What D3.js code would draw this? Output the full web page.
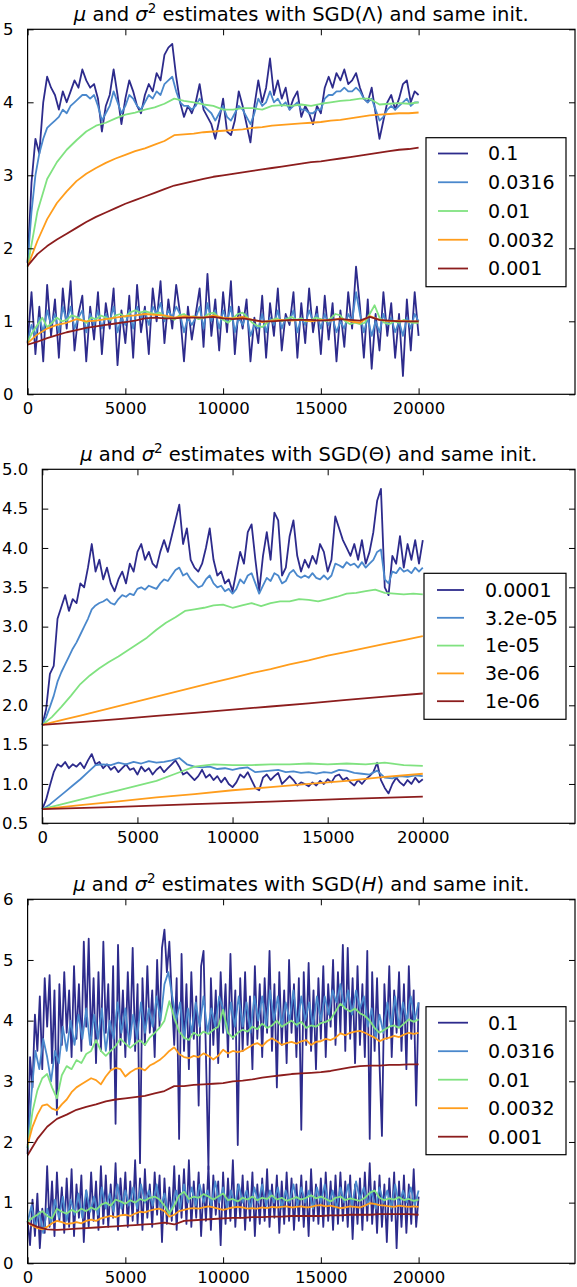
<!DOCTYPE html>
<html>
<head>
<meta charset="utf-8">
<script src="https://d3js.org/d3.v7.min.js"></script>
<style>
  html, body { margin: 0; padding: 0; background: #fff; }
  svg { display: block; }
  text { font-family: "DejaVu Sans", sans-serif; fill: #000; }
</style>
</head>
<body>
<div id="chart"></div>
<script>
// ---- data ----
// every series spans iterations 0..20000, evenly spaced
var iterMax = 20000;
var xTicks = [0, 5000, 10000, 15000, 20000];
var lambdaRates = ["0.1", "0.0316", "0.01", "0.0032", "0.001"];
var thetaRates = ["0.0001", "3.2e-05", "1e-05", "3e-06", "1e-06"];
var hRates = ["0.1", "0.0316", "0.01", "0.0032", "0.001"];
var rateColors = ["#2d2b8c", "#4a88cc", "#80e280", "#ff9d1c", "#8c1d1d"];

// SGD(Lambda), mu
var lamMu_0p1 = [1.8,2.9,3.5,3.3,4.0,4.35,4.2,4.1,3.9,4.15,
  4.0,4.15,4.3,4.2,4.45,4.3,4.2,4.25,4.05,3.6,
  3.95,4.1,4.45,4.1,3.7,4.05,4.3,4.15,3.95,3.85,
  4.1,4.25,4.15,4.4,4.3,4.65,4.75,4.8,4.35,4.0,
  3.8,3.95,3.85,4.0,4.25,3.9,3.8,3.7,3.5,3.75,
  4.05,3.6,3.55,3.75,4.15,3.95,3.7,3.45,3.95,4.3,
  4.0,4.2,4.6,4.1,4.3,4.05,4.2,3.9,4.05,4.15,
  3.8,3.95,3.85,3.7,3.95,3.85,4.2,4.35,4.2,4.4,
  4.3,4.45,4.25,4.3,4.4,4.2,4.05,4.0,4.2,3.85,
  3.5,3.75,4.0,4.1,3.9,4.05,4.25,4.3,4.0,4.15,4.1];
var lamMu_0p0316 = [1.8,2.5,3.0,3.3,3.5,3.65,3.7,3.75,3.8,3.9,
  3.85,3.95,4.0,4.05,4.1,4.1,4.05,4.1,3.95,3.75,
  3.85,3.95,4.15,4.0,3.85,3.95,4.1,4.05,3.95,3.9,
  4.0,4.1,4.05,4.15,4.1,4.25,4.3,4.35,4.15,4.0,
  3.95,3.95,3.9,3.95,4.05,3.95,3.9,3.85,3.75,3.85,
  3.95,3.8,3.75,3.85,3.95,3.9,3.8,3.7,3.85,4.05,
  3.95,4.0,4.15,4.0,4.05,3.95,4.0,3.9,3.95,4.0,
  3.9,3.9,3.85,3.85,3.9,3.9,4.05,4.1,4.1,4.15,
  4.15,4.2,4.15,4.15,4.2,4.15,4.05,4.0,4.05,3.9,
  3.75,3.8,3.9,3.95,3.9,3.95,4.0,4.05,3.95,4.0,4.0];
var lamMu_0p01 = [1.75,2.5,2.95,3.18,3.35,3.48,3.6,3.68,3.72,3.78,3.83,3.86,3.9,3.93,3.98,4.05,
  4.02,4.0,3.97,3.95,3.9,3.9,3.92,3.92,3.9,3.95,3.96,3.95,3.97,3.95,3.98,4.0,4.02,4.03,4.05,
  4.05,3.97,3.98,3.99,3.98,4.0];
var lamMu_0p0032 = [1.75,2.1,2.4,2.62,2.78,2.92,3.02,3.1,3.17,3.23,3.28,3.33,3.37,3.42,3.47,3.55,
  3.56,3.57,3.59,3.6,3.61,3.62,3.63,3.65,3.66,3.68,3.69,3.7,3.71,3.72,3.73,3.75,3.76,3.78,3.8,
  3.82,3.83,3.84,3.85,3.85,3.86];
var lamMu_0p001 = [1.76,1.92,2.03,2.12,2.2,2.28,2.36,2.43,2.49,2.55,2.61,2.66,2.71,2.76,2.81,2.86,
  2.89,2.92,2.95,2.98,3.0,3.02,3.04,3.06,3.08,3.1,3.12,3.14,3.16,3.18,3.19,3.21,3.23,3.25,3.27,
  3.29,3.31,3.33,3.35,3.36,3.38];
// SGD(Lambda), sigma^2
var lamSig_0p1 = [0.7,1.4,0.55,1.2,0.45,1.5,0.8,1.3,0.5,1.45,0.9,1.55,0.6,1.1,1.35,0.45,1.2,0.75,1.4,0.55,
  1.25,0.9,1.45,0.4,1.15,0.7,1.35,0.5,1.5,0.85,1.2,0.55,1.45,1.0,1.55,0.7,1.3,0.9,1.5,1.1,
  0.45,1.2,0.75,1.1,1.45,0.65,1.65,0.8,1.3,0.6,1.4,0.85,1.55,0.55,1.2,0.9,1.3,0.45,1.05,0.7,
  1.35,0.5,1.25,0.8,1.45,0.6,1.1,0.95,1.4,0.5,1.25,0.7,1.45,0.85,1.2,0.55,1.35,0.75,1.25,0.45,
  1.15,0.65,1.4,0.9,1.75,1.2,0.5,1.3,0.35,1.1,0.6,1.4,0.8,1.25,0.5,1.1,0.25,1.3,0.6,1.4,0.8];
var lamSig_0p0316 = [0.72,0.95,0.8,1.05,0.85,1.15,0.95,1.1,0.85,1.2,1.0,1.2,0.9,1.05,1.15,0.85,1.1,0.95,1.15,0.9,
  1.1,1.0,1.2,0.85,1.05,0.95,1.15,0.9,1.2,1.05,1.15,0.95,1.2,1.1,1.25,1.0,1.15,1.05,1.2,1.1,
  0.85,1.05,0.95,1.05,1.2,0.9,1.25,1.0,1.15,0.9,1.15,1.0,1.2,0.85,1.05,0.95,1.1,0.8,0.95,0.9,
  1.1,0.85,1.05,0.95,1.15,0.9,1.05,1.0,1.15,0.85,1.05,0.95,1.15,1.0,1.1,0.9,1.1,0.95,1.05,0.85,
  1.0,0.9,1.1,1.0,1.4,1.1,0.85,1.05,0.8,1.0,0.85,1.1,0.95,1.05,0.85,1.0,0.8,1.05,0.9,1.1,1.0];
var lamSig_0p01 = [0.72,0.85,0.95,1.05,0.92,0.98,1.05,1.0,1.02,1.08,1.06,1.02,0.98,1.05,1.03,1.08,1.05,1.02,1.08,1.1,
  1.06,1.12,1.15,1.12,1.14,1.12,1.1,1.12,1.06,1.05,1.02,1.08,1.1,1.05,1.07,1.03,1.05,1.1,1.12,1.06,
  1.02,0.98,1.04,1.1,1.12,1.05,0.98,0.94,0.92,0.98,1.02,1.04,1.0,1.03,1.06,1.02,1.04,1.0,1.02,1.05,
  1.03,1.0,1.04,1.1,1.08,1.0,0.96,0.98,0.96,0.98,1.1,1.22,1.05,0.98,0.96,1.0,0.98,1.02,0.99,0.98,0.98];
var lamSig_0p0032 = [0.7,0.82,0.9,0.95,0.98,1.03,1.0,1.01,1.03,1.05,1.07,1.08,1.1,1.09,1.08,1.05,1.07,1.06,1.05,
  1.08,1.05,1.04,1.06,1.02,0.99,1.01,1.02,1.01,1.02,1.0,1.02,1.01,1.04,1.0,0.98,1.07,1.02,1.0,1.01,1.0,1.0];
var lamSig_0p001 = [0.68,0.72,0.77,0.81,0.85,0.88,0.91,0.93,0.95,0.97,0.99,1.01,1.04,1.05,1.04,1.04,1.05,1.05,
  1.05,1.06,1.04,1.03,1.04,1.02,1.0,1.0,1.01,1.02,1.02,1.02,1.01,1.02,1.03,1.02,1.01,1.06,1.02,1.01,1.0,1.0,1.0];

// SGD(Theta), mu
var thMu_1em4 = [1.75,1.95,2.4,2.5,3.1,3.25,3.4,3.2,3.35,3.3,
  3.55,3.5,3.75,4.05,3.7,3.85,3.6,3.75,3.55,3.45,
  3.6,3.7,3.55,3.8,3.7,3.95,4.05,3.85,3.95,3.8,
  3.75,3.95,4.1,3.95,4.15,4.35,4.55,4.05,4.25,3.85,
  3.75,3.7,3.8,4.0,4.25,3.85,3.65,3.7,3.55,3.6,
  3.45,3.7,3.95,3.8,4.2,4.3,3.85,3.45,3.9,4.2,
  3.85,4.45,4.35,3.65,3.75,4.15,4.35,3.9,3.7,3.85,
  3.75,3.9,3.8,4.05,3.95,3.7,3.85,4.4,4.25,4.1,
  4.0,3.9,4.05,3.85,4.1,3.8,3.95,4.2,4.6,4.75,
  3.5,3.4,3.9,3.8,4.15,3.75,4.05,3.85,4.1,3.8,4.1];
var thMu_3p2em5 = [1.75,1.85,1.98,2.12,2.3,2.42,2.52,2.62,2.72,2.8,
  2.9,3.0,3.1,3.22,3.27,3.3,3.32,3.35,3.3,3.28,
  3.35,3.4,3.38,3.42,3.4,3.48,3.5,3.47,3.52,3.5,
  3.48,3.55,3.6,3.58,3.65,3.72,3.75,3.65,3.68,3.6,
  3.55,3.5,3.52,3.6,3.65,3.55,3.5,3.52,3.45,3.48,
  3.42,3.48,3.6,3.55,3.65,3.68,3.55,3.42,3.52,3.62,
  3.58,3.68,3.65,3.55,3.58,3.68,3.72,3.65,3.62,3.65,
  3.62,3.68,3.62,3.6,3.65,3.6,3.65,3.8,3.78,3.75,
  3.82,3.78,3.8,3.75,3.82,3.75,3.8,3.85,3.95,3.98,
  3.6,3.55,3.7,3.68,3.75,3.7,3.72,3.68,3.75,3.7,3.75];
var thMu_1em5 = [1.75,1.85,1.98,2.12,2.27,2.38,2.47,2.55,2.62,2.7,2.78,2.86,2.96,3.05,3.12,3.2,
  3.22,3.24,3.27,3.28,3.24,3.27,3.3,3.26,3.3,3.32,3.32,3.35,3.34,3.32,3.35,3.38,3.42,3.43,3.45,
  3.47,3.43,3.42,3.41,3.42,3.41];
var thMu_3em6 = [1.75,1.81,1.87,1.93,1.99,2.05,2.11,2.17,2.23,2.29,2.35,2.41,2.46,2.52,2.57,2.63,
  2.68,2.73,2.78,2.83,2.88];
var thMu_1em6 = [1.75,1.785,1.825,1.865,1.905,1.945,1.985,2.025,2.07,2.11,2.15];
// SGD(Theta), sigma^2
var thSig_1em4 = [0.68,0.8,0.98,1.15,1.25,1.22,1.28,1.2,1.25,1.22,
  1.27,1.2,1.3,1.38,1.25,1.28,1.2,1.25,1.18,1.22,
  1.15,1.2,1.25,1.18,1.2,1.12,1.22,1.16,1.2,1.12,
  1.18,1.22,1.15,1.2,1.25,1.3,1.22,1.12,1.15,1.1,
  1.05,1.1,1.18,1.08,1.12,1.05,1.1,1.02,1.08,1.0,
  0.96,1.02,1.12,1.08,1.15,1.05,0.95,0.92,1.08,1.12,
  1.05,1.1,1.14,1.0,1.05,1.1,1.05,0.98,1.02,1.0,
  0.97,1.02,0.98,1.04,1.0,1.06,1.02,1.1,1.12,1.05,
  1.08,1.02,0.98,1.05,1.0,1.06,1.1,1.15,1.27,1.05,
  0.95,0.88,1.0,1.08,1.02,0.98,1.05,1.0,1.08,1.02,1.06];
var thSig_3p2em5 = [0.68,0.74,0.82,0.9,0.98,1.06,1.15,1.24,1.25,1.24,1.27,1.25,1.28,1.26,1.29,1.27,
  1.28,1.3,1.33,1.25,1.22,1.21,1.22,1.19,1.2,1.18,1.2,1.21,1.15,1.16,1.17,1.18,1.15,1.16,1.14,
  1.15,1.13,1.15,1.14,1.18,1.17,1.14,1.13,1.12,1.17,1.08,1.07,1.1,1.09,1.11,1.1];
var thSig_1em5 = [0.68,0.74,0.8,0.86,0.92,0.98,1.04,1.13,1.22,1.25,1.24,1.24,1.25,1.25,1.26,1.25,
  1.26,1.25,1.27,1.24,1.23];
var thSig_3em6 = [0.68,0.73,0.78,0.83,0.87,0.92,0.96,1.0,1.04,1.09,1.13];
var thSig_1em6 = [0.68,0.71,0.745,0.775,0.81,0.84];

// SGD(H), mu
var hMu_0p1 = [1.8,3.4,2.9,4.1,3.5,4.4,3.2,4.7,
  3.9,4.75,3.3,4.5,2.45,4.6,3.6,4.8,
  3.8,4.5,3.4,4.9,3.7,4.6,3.5,5.3,
  3.9,5.35,3.6,4.7,3.3,4.8,3.5,5.3,
  3.8,4.6,3.2,4.9,2.3,5.25,3.6,4.5,
  3.4,4.8,3.7,5.2,3.5,4.6,1.65,4.7,
  3.6,4.9,3.8,4.5,3.4,5.0,3.9,5.2,
  5.5,4.8,5.3,4.4,3.6,4.7,2.05,5.1,
  3.5,4.6,3.2,4.8,3.7,4.4,2.6,4.9,
  5.15,3.4,1.55,4.7,3.6,4.5,3.3,4.8,
  3.8,4.6,3.4,5.1,3.7,4.5,1.95,4.7,
  3.5,4.8,3.6,4.4,3.2,4.9,3.7,4.6,
  3.4,4.7,3.8,5.15,3.5,4.6,2.9,4.8,
  3.6,4.5,3.3,5.0,3.8,4.6,3.4,4.7,
  2.2,4.8,3.6,4.95,3.5,4.5,3.2,4.7,
  3.7,4.9,3.4,4.6,3.9,5.0,3.6,4.8,
  3.8,5.25,3.5,5.2,3.7,4.7,3.3,4.9,
  3.6,4.6,3.4,5.15,2.05,4.8,3.5,4.7,
  3.3,2.1,4.6,3.7,4.9,3.4,4.5,3.8,
  4.8,3.5,4.6,3.2,4.9,3.7,4.5,2.6,
  4.3];
var hMu_0p0316 = [1.9,2.8,3.5,3.2,3.7,3.4,3.0,3.5,3.3,3.9,
  3.5,4.0,3.6,4.1,3.7,4.2,3.6,4.1,3.7,4.2,
  3.5,4.0,3.7,4.3,3.8,4.2,3.6,4.1,3.7,4.3,
  3.8,4.2,3.9,4.4,4.0,4.6,4.8,4.4,4.0,4.3,
  3.7,4.2,3.8,4.3,3.9,4.4,3.8,4.2,3.9,4.4,
  4.2,3.8,4.3,3.9,4.4,3.9,4.3,3.8,4.4,4.0,
  4.4,3.9,4.5,4.0,4.4,3.9,4.3,4.0,4.5,3.9,
  4.4,4.0,4.3,3.9,4.4,4.0,4.4,4.1,4.5,4.3,
  4.6,4.2,4.5,4.1,4.5,4.2,4.4,3.9,4.2,3.7,
  4.1,3.8,4.3,3.9,4.4,3.9,4.3,4.0,4.4,4.0,4.3];
var hMu_0p01 = [1.9,2.5,2.85,3.05,3.12,2.9,2.72,3.1,3.25,3.2,
  3.35,3.3,3.45,3.5,3.68,3.5,3.42,3.5,3.58,3.7,
  3.62,3.55,3.62,3.68,3.6,3.72,3.8,3.88,4.0,4.32,
  4.05,3.82,3.72,3.68,3.8,3.75,3.82,3.78,3.85,3.9,
  4.18,3.8,3.72,3.8,3.85,3.82,3.9,3.86,3.95,3.88,
  3.92,4.0,3.9,3.95,4.0,3.93,3.98,3.88,3.92,3.9,
  3.96,3.98,4.02,4.15,4.28,4.2,4.15,4.2,4.12,4.08,
  4.0,3.88,3.8,3.85,3.9,3.92,3.88,3.95,4.02,3.98,4.02];
var hMu_0p0032 = [1.95,2.25,2.45,2.6,2.62,2.55,2.52,2.62,2.7,2.82,
  2.9,2.95,3.0,3.05,3.02,2.95,3.08,3.18,3.22,3.2,
  3.08,3.15,3.2,3.22,3.18,3.26,3.3,3.35,3.42,3.5,
  3.56,3.45,3.4,3.38,3.42,3.4,3.46,3.42,3.36,3.42,
  3.52,3.46,3.5,3.48,3.5,3.55,3.6,3.63,3.58,3.66,
  3.71,3.66,3.6,3.63,3.65,3.62,3.66,3.68,3.6,3.65,
  3.66,3.7,3.68,3.72,3.79,3.76,3.8,3.82,3.83,3.8,
  3.76,3.72,3.66,3.7,3.72,3.75,3.73,3.77,3.8,3.78,3.8];
var hMu_0p001 = [1.78,2.05,2.25,2.38,2.45,2.53,2.58,2.62,2.67,2.7,2.72,2.74,2.76,2.8,2.84,2.92,
  2.92,2.94,2.95,2.96,2.97,3.0,3.01,3.03,3.06,3.08,3.1,3.12,3.13,3.14,3.15,3.17,3.2,3.23,3.25,
  3.26,3.26,3.27,3.27,3.28,3.28];
// SGD(H), sigma^2
var hSig_0p1 = [0.7,0.3,1.05,0.45,1.15,0.25,0.9,0.5,
  1.6,0.6,1.35,0.45,1.5,0.7,1.25,0.5,
  1.4,0.6,1.55,0.45,1.3,0.75,1.45,0.35,
  1.2,0.6,1.5,0.7,1.35,0.55,1.6,0.65,
  1.45,0.6,1.3,0.75,1.65,0.55,1.4,0.8,
  1.5,0.6,1.35,0.7,1.7,0.65,1.4,0.55,
  1.55,0.75,1.3,0.6,1.5,0.8,1.45,0.35,
  1.4,0.65,1.25,0.7,1.6,0.55,1.45,0.75,
  1.55,0.65,1.7,0.6,1.35,0.75,1.5,0.45,
  1.3,0.7,1.6,0.55,1.45,0.8,1.35,0.3,
  1.5,0.65,1.4,0.7,1.7,0.6,1.3,0.75,
  1.45,0.55,1.35,0.7,1.5,0.45,1.3,0.65,
  1.4,0.7,1.55,0.6,1.3,0.75,1.45,0.5,
  1.35,0.65,1.5,0.7,1.4,0.55,1.3,0.7,
  1.45,0.6,1.35,0.45,1.55,0.7,1.3,0.65,
  1.4,0.6,1.5,0.7,1.35,0.55,1.45,0.65,
  1.5,0.7,1.35,0.6,1.45,0.4,1.3,0.65,
  1.4,0.55,1.5,0.7,1.65,0.65,1.35,0.5,
  1.45,0.6,1.3,0.35,1.4,0.7,1.5,0.25,
  1.35,0.6,1.45,0.5,1.3,0.65,1.55,0.6,
  1.1];
var hSig_0p0316 = [0.68,0.95,0.6,0.85,0.5,0.9,0.65,1.05,0.75,1.1,
  0.7,1.05,0.8,1.15,0.75,1.2,0.85,1.1,0.8,1.25,
  0.9,1.15,0.85,1.3,0.9,1.2,0.95,1.25,0.9,1.3,
  1.0,1.2,0.95,1.3,0.9,1.15,0.8,0.95,1.2,0.9,
  1.3,1.0,1.25,0.95,1.3,1.0,1.2,0.95,1.35,1.0,
  1.25,0.9,1.2,0.95,1.3,1.0,1.2,0.9,1.25,1.0,
  1.3,0.95,1.2,1.0,1.25,0.9,1.2,1.0,1.3,0.95,
  1.25,1.0,1.2,0.9,1.25,1.0,1.3,0.95,1.2,0.9,
  1.25,1.0,1.3,0.95,1.35,1.05,1.25,0.95,1.2,0.9,
  1.25,1.0,1.2,0.9,1.3,0.95,1.2,1.0,1.25,0.95,1.2];
var hSig_0p01 = [0.68,0.75,0.8,0.86,0.78,0.74,0.9,0.85,0.82,0.88,
  0.84,0.9,0.86,0.92,0.88,0.96,1.0,0.95,1.05,1.02,
  0.98,1.04,1.0,1.06,1.03,1.08,1.1,1.05,0.95,0.82,
  0.95,1.12,1.18,1.06,1.1,1.08,1.14,1.1,1.05,1.1,
  1.15,1.04,1.06,1.02,1.08,1.05,1.1,1.04,1.08,1.06,
  1.12,1.05,1.08,1.03,1.06,1.09,1.05,1.08,1.12,1.07,
  1.1,1.06,1.02,1.08,1.1,1.04,1.07,1.05,1.03,1.08,
  1.16,1.2,1.08,1.04,1.07,1.05,1.09,1.04,1.06,1.03,1.05];
var hSig_0p0032 = [0.67,0.62,0.58,0.56,0.6,0.66,0.7,0.68,0.65,0.66,
  0.68,0.66,0.7,0.72,0.7,0.74,0.76,0.78,0.76,0.79,
  0.8,0.78,0.82,0.85,0.84,0.87,0.89,0.9,0.86,0.77,
  0.8,0.86,0.88,0.9,0.91,0.9,0.92,0.94,0.92,0.9,
  0.88,0.9,0.92,0.93,0.92,0.9,0.91,0.9,0.92,0.91,
  0.93,0.92,0.93,0.94,0.92,0.93,0.94,0.92,0.93,0.95,
  0.96,0.94,0.95,0.93,0.91,0.92,0.94,0.93,0.92,0.95,
  0.99,0.98,0.96,0.95,0.94,0.93,0.95,0.94,0.93,0.94,0.93];
var hSig_0p001 = [0.67,0.6,0.56,0.55,0.56,0.57,0.58,0.59,0.6,0.61,0.62,0.63,0.64,0.65,0.67,0.64,
  0.7,0.71,0.72,0.73,0.74,0.75,0.75,0.76,0.76,0.77,0.77,0.78,0.78,0.78,0.78,0.79,0.79,0.8,0.8,
  0.8,0.81,0.81,0.81,0.81,0.8];

// ---- panels ----
var panels = [
  {
    title: [["μ", 1], [" and "], ["σ", 1], ["2", 2], [" estimates with SGD(Λ) and same init."]],
    top: 29.3, bottom: 394.3, left: 27.6, right: 575,
    yDomain: [0, 5], yTicks: [0, 1, 2, 3, 4, 5], yFmt: d3.format("d"),
    rates: lambdaRates,
    mu: [lamMu_0p1, lamMu_0p0316, lamMu_0p01, lamMu_0p0032, lamMu_0p001],
    sig: [lamSig_0p1, lamSig_0p0316, lamSig_0p01, lamSig_0p0032, lamSig_0p001],
    legend: { x: 426, y: 137.7, w: 140, h: 149, first: 15.8, step: 28.75, lx0: 438, lx1: 468, tx: 488 }
  },
  {
    title: [["μ", 1], [" and "], ["σ", 1], ["2", 2], [" estimates with SGD(Θ) and same init."]],
    top: 469.3, bottom: 823.3, left: 42.3, right: 575,
    yDomain: [0.5, 5], yTicks: [0.5, 1, 1.5, 2, 2.5, 3, 3.5, 4, 4.5, 5], yFmt: d3.format(".1f"),
    rates: thetaRates,
    mu: [thMu_1em4, thMu_3p2em5, thMu_1em5, thMu_3em6, thMu_1em6],
    sig: [thSig_1em4, thSig_3p2em5, thSig_1em5, thSig_3em6, thSig_1em6],
    legend: { x: 424, y: 573.3, w: 142, h: 146, first: 16.7, step: 27.8, lx0: 437, lx1: 464, tx: 485 }
  },
  {
    title: [["μ", 1], [" and "], ["σ", 1], ["2", 2], [" estimates with SGD("], ["H", 1], [") and same init."]],
    top: 899.3, bottom: 1263.3, left: 27.6, right: 575,
    yDomain: [0, 6], yTicks: [0, 1, 2, 3, 4, 5, 6], yFmt: d3.format("d"),
    rates: hRates,
    mu: [hMu_0p1, hMu_0p0316, hMu_0p01, hMu_0p0032, hMu_0p001],
    sig: [hSig_0p1, hSig_0p0316, hSig_0p01, hSig_0p0032, hSig_0p001],
    legend: { x: 426, y: 1006.7, w: 140, h: 148, first: 16, step: 28.5, lx0: 438, lx1: 468, tx: 488 }
  }
];

var svg = d3.select("#chart").append("svg")
  .attr("width", 577).attr("height", 1287);

var tickLen = 6;

panels.forEach(function (p) {
  var x = d3.scaleLinear().domain([0, 28000]).range([p.left, p.right]);
  var y = d3.scaleLinear().domain(p.yDomain).range([p.bottom, p.top]);
  var g = svg.append("g");

  var line = d3.line()
    .x(function (d, i, arr) { return x(i * iterMax / (arr.length - 1)); })
    .y(function (d) { return y(d); });

  // lines: first rate at the bottom
  p.mu.forEach(function (s, k) {
    [s, p.sig[k]].forEach(function (vals) {
      g.append("path")
        .attr("d", line(vals))
        .attr("fill", "none")
        .attr("stroke", rateColors[k])
        .attr("stroke-width", 1.8)
        .attr("stroke-linejoin", "round");
    });
  });

  // axes frame
  g.append("rect")
    .attr("x", p.left).attr("y", p.top)
    .attr("width", p.right - p.left).attr("height", p.bottom - p.top)
    .attr("fill", "none").attr("stroke", "#000").attr("stroke-width", 1.2);

  // ticks, inward on all four sides
  var bottomAxis = d3.axisBottom(x).tickValues(xTicks).tickSize(-tickLen).tickPadding(8).tickFormat(d3.format("d"));
  var topAxis = d3.axisTop(x).tickValues(xTicks).tickSize(-tickLen).tickFormat("");
  var leftAxis = d3.axisLeft(y).tickValues(p.yTicks).tickSize(-tickLen).tickPadding(tickLen + 8).tickFormat(p.yFmt);
  var rightAxis = d3.axisRight(y).tickValues(p.yTicks).tickSize(-tickLen).tickFormat("");

  [[bottomAxis, "translate(0," + p.bottom + ")"], [topAxis, "translate(0," + p.top + ")"],
   [leftAxis, "translate(" + p.left + ",0)"], [rightAxis, "translate(" + p.right + ",0)"]]
    .forEach(function (a) {
      var ax = g.append("g").attr("transform", a[1]).call(a[0]);
      ax.select(".domain").remove();
      ax.selectAll("line").attr("stroke", "#000").attr("stroke-width", 1);
      ax.selectAll("text").attr("font-family", "DejaVu Sans").attr("font-size", 16.5).attr("fill", "#000");
    });

  // title with math pieces
  var t = g.append("text")
    .attr("x", (p.left + p.right) / 2).attr("y", p.top - 8)
    .attr("text-anchor", "middle").attr("font-size", 19.5);
  var raised = false;
  p.title.forEach(function (part) {
    var ts = t.append("tspan").text(part[0]);
    if (part[1] === 1) ts.attr("font-style", "italic");
    if (part[1] === 2) { ts.attr("font-size", 13.5).attr("dy", -8); raised = true; }
    else if (raised) { ts.attr("dy", 8); raised = false; }
  });

  // legend
  var L = p.legend;
  var lg = g.append("g");
  lg.append("rect")
    .attr("x", L.x).attr("y", L.y).attr("width", L.w).attr("height", L.h)
    .attr("fill", "#fff").attr("stroke", "#000").attr("stroke-width", 1.2);
  p.rates.forEach(function (r, k) {
    var cy = L.y + L.first + k * L.step;
    lg.append("line")
      .attr("x1", L.lx0).attr("x2", L.lx1).attr("y1", cy).attr("y2", cy)
      .attr("stroke", rateColors[k]).attr("stroke-width", 1.8);
    lg.append("text")
      .attr("x", L.tx).attr("y", cy).attr("dy", "0.36em")
      .attr("font-size", 19).text(r);
  });
});
</script>
</body>
</html>
